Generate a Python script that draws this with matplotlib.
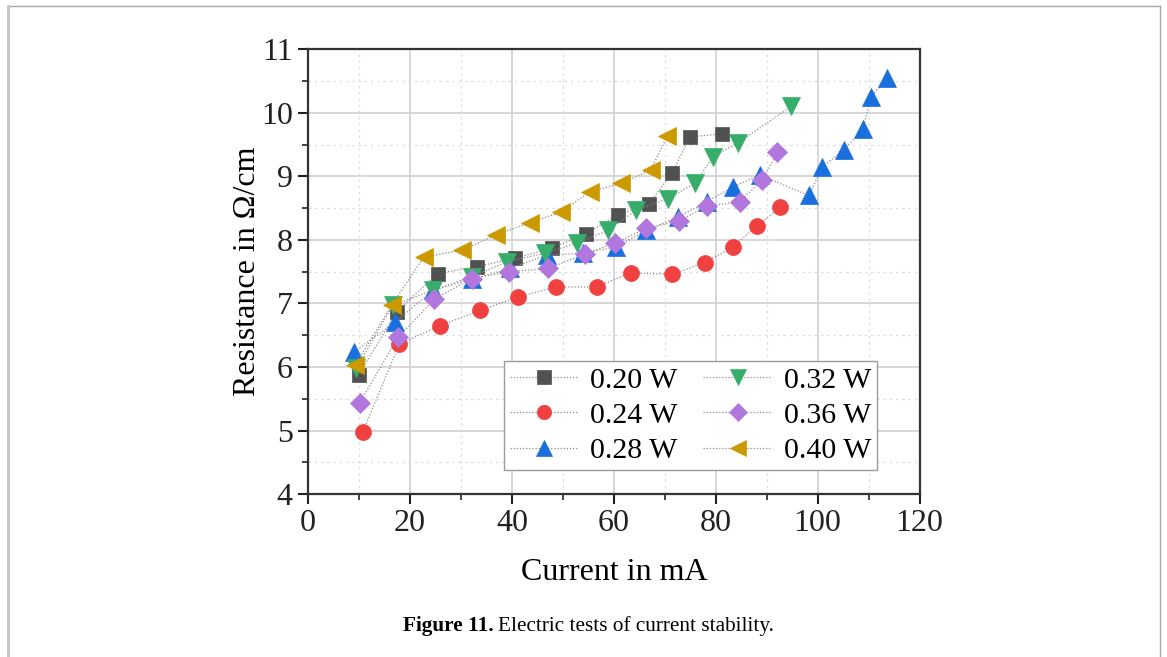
import numpy as np
import matplotlib.pyplot as plt
from matplotlib.ticker import MultipleLocator
from matplotlib.lines import Line2D

# data (current in mA, resistance in Ohm/cm)
labels = ["0.20 W", "0.24 W", "0.28 W", "0.32 W", "0.36 W", "0.40 W"]

x_020 = [9.9, 17.4, 25.4, 33.1, 40.6, 47.8, 54.5, 60.8, 66.9, 71.5, 74.9, 81.3]
y_020 = [5.87, 6.87, 7.47, 7.58, 7.71, 7.87, 8.10, 8.39, 8.57, 9.06, 9.62, 9.67]

x_024 = [10.7, 17.9, 25.9, 33.7, 41.2, 48.6, 56.6, 63.3, 71.5, 77.8, 83.4, 88.0, 92.7]
y_024 = [4.97, 6.36, 6.65, 6.89, 7.10, 7.26, 7.26, 7.48, 7.46, 7.64, 7.89, 8.22, 8.51]

x_028 = [9.1, 17.1, 24.6, 32.1, 39.6, 46.8, 53.9, 60.5, 66.4, 72.6, 78.2, 83.3, 88.6,
         98.3, 100.9, 105.2, 108.8, 110.5, 113.6]
y_028 = [6.24, 6.71, 7.21, 7.38, 7.55, 7.76, 7.79, 7.89, 8.15, 8.36, 8.60, 8.83, 9.02,
         8.70, 9.15, 9.42, 9.74, 10.25, 10.55]

x_032 = [9.5, 16.6, 24.6, 32.1, 39.1, 46.5, 52.7, 58.9, 64.4, 70.6, 75.9, 79.5, 84.4, 94.8]
y_032 = [5.98, 6.97, 7.21, 7.42, 7.66, 7.79, 7.95, 8.15, 8.47, 8.65, 8.89, 9.31, 9.53, 10.10]

x_036 = [10.1, 17.7, 24.8, 32.1, 39.5, 47.1, 54.3, 60.2, 66.4, 72.8, 78.2, 84.7, 89.1, 92.1]
y_036 = [5.44, 6.47, 7.07, 7.39, 7.50, 7.55, 7.78, 7.95, 8.18, 8.30, 8.53, 8.60, 8.94, 9.38]

x_040 = [9.2, 16.4, 22.7, 30.3, 36.9, 43.5, 49.7, 55.3, 61.5, 67.2, 70.5]
y_040 = [6.03, 6.97, 7.73, 7.84, 8.08, 8.27, 8.44, 8.76, 8.89, 9.10, 9.63]

xs = [x_020, x_024, x_028, x_032, x_036, x_040]
ys = [y_020, y_024, y_028, y_032, y_036, y_040]
colors = ["#515151", "#F14040", "#1A6FDF", "#37AD6B", "#B177DE", "#CC9900"]
markers = ["s", "o", "^", "v", "D", "<"]
sizes = [10.5, 11.5, 13, 13, 10, 13]

plt.rcParams["font.family"] = ["Liberation Serif", "DejaVu Serif"]

fig = plt.figure(figsize=(11.67, 6.57), dpi=100)
ax = fig.add_axes([0.264, 0.248, 0.524, 0.677])

# major / minor grid
ax.set_axisbelow(True)
ax.grid(which="major", color="#d4d4d4", linewidth=1.3)
ax.grid(which="minor", color="#dddddd", linewidth=0.9, linestyle=(0, (2, 3)))

for x, y, c, m, s, lab in zip(xs, ys, colors, markers, sizes, labels):
    ax.plot(x, y, color="#8c8c8c", linewidth=0.9, linestyle=(0, (1, 1.5)),
            marker=m, markersize=s, markerfacecolor=c, markeredgecolor=c,
            markeredgewidth=0.5, label=lab)

ax.set_xlim(0, 120)
ax.set_ylim(4, 11)
ax.xaxis.set_major_locator(MultipleLocator(20))
ax.xaxis.set_minor_locator(MultipleLocator(10))
ax.yaxis.set_major_locator(MultipleLocator(1))
ax.yaxis.set_minor_locator(MultipleLocator(0.5))
ax.tick_params(which="both", direction="out", labelsize=23, colors="#222222")
ax.tick_params(which="major", length=7, width=1.5, pad=4)
ax.tick_params(which="minor", length=4, width=1.2)
for sp in ax.spines.values():
    sp.set_color("#333333")
    sp.set_linewidth(1.6)

ax.set_xlabel("Current in mA", fontsize=23, labelpad=14)
ax.set_ylabel("Resistance in Ω/cm", fontsize=23, labelpad=-1)

leg = ax.legend(ncol=2, loc="lower right", bbox_to_anchor=(0.931, 0.054),
                fontsize=21.5, frameon=True, fancybox=False, framealpha=1,
                edgecolor="#9a9a9a", handlelength=2.3, handletextpad=0.4,
                columnspacing=0.85, labelspacing=0.28, borderpad=0.2,
                borderaxespad=0, markerscale=0.9)
leg.get_frame().set_linewidth(1.0)

# caption: bold lead-in followed by regular text
cap1 = fig.text(0.345, 0.04, "Figure 11.", fontsize=15.3, fontweight="bold", ha="left")
fig.canvas.draw()
bb = cap1.get_window_extent()
x2 = (bb.x1 + 5) / fig.bbox.width
fig.text(x2, 0.04, "Electric tests of current stability.", fontsize=15.3, ha="left")

# page frame
frame_col = "#a8a8a8"
fig.add_artist(Line2D([0.007, 0.994], [0.991, 0.991], color=frame_col, linewidth=1.0))
fig.add_artist(Line2D([0.007, 0.007], [0.0, 0.991], color="#c4c4c4", linewidth=2.0))
fig.add_artist(Line2D([0.994, 0.994], [0.0, 0.991], color=frame_col, linewidth=1.0))

fig.savefig("out.png", dpi=100)
